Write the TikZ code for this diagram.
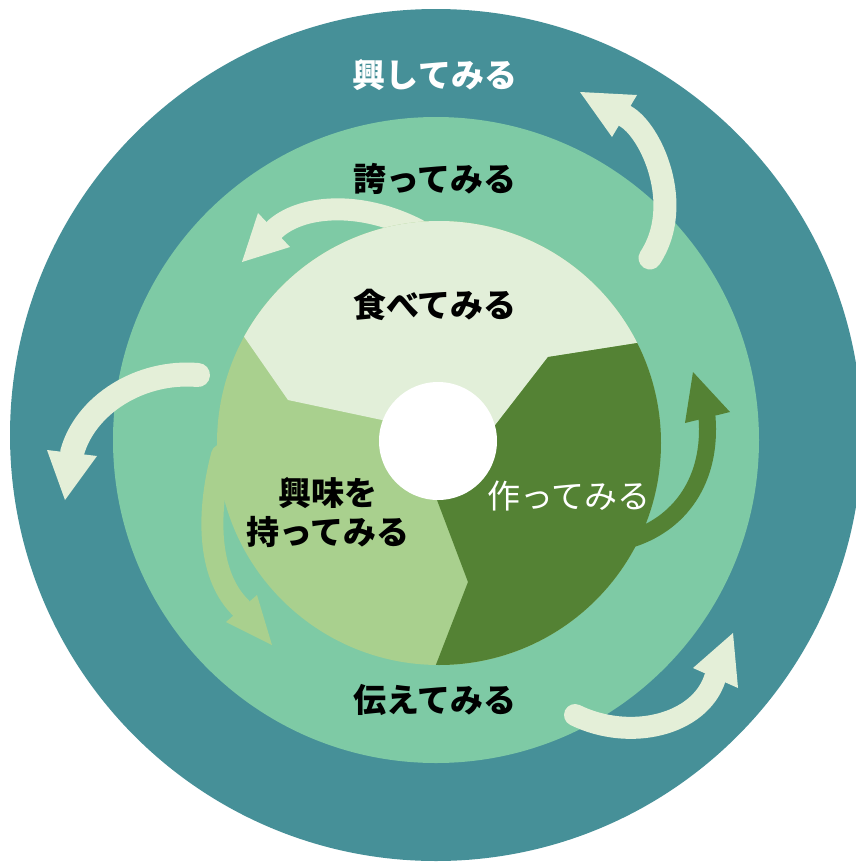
\documentclass[tikz,border=0pt]{standalone}
\usepackage{fontspec}
\setmainfont{Noto Sans CJK JP}
\definecolor{teal}{RGB}{70,144,152}
\definecolor{ring}{RGB}{126,202,165}
\definecolor{lightsec}{RGB}{226,239,217}
\definecolor{midsec}{RGB}{169,208,142}
\definecolor{darksec}{RGB}{84,130,52}
\definecolor{palearrow}{RGB}{228,239,216}
\tikzset{
  lbl/.style={inner sep=0pt, font=\fontsize{33}{39}\selectfont\bfseries, text=black, align=center},
  wlbl/.style={lbl, text=white},
  shaft/.style={line width=#1, line cap=round},
}
\begin{document}
\begin{tikzpicture}[x=1pt,y=-1pt]
\fill[white] (0,0) rectangle (856,863);
\useasboundingbox (0,0) rectangle (856,863);
% rings
\fill[teal] (436,435) circle[radius=426pt];
\fill[ring] (436,440) circle[radius=323pt];
% arrow behind disk (top left, tail merges with disk)
\coordinate (a2t) at (418,230);
\coordinate (a2b) at (274,230);
\draw[palearrow, shaft=22pt] (a2t) .. controls (360,200) and (300,205) .. (a2b);
\fill[palearrow] (242,262) -- (258,213) -- (290,247) -- cycle;
% inner disk
\begin{scope}
\clip (439,443) circle[radius=222pt];
\fill[midsec] (439,443) circle[radius=222pt];
\fill[lightsec] (188,256) -- (288,400) -- (382,420) -- (439,443) -- (493,428) -- (548,357) -- (720,330) -- (720,100) -- (188,100) -- cycle;
\fill[darksec] (720,330) -- (548,357) -- (493,428) -- (439,443) -- (437,500) -- (468,582) -- (437,662) -- (406,742) -- (720,742) -- cycle;
\end{scope}
% top-right arrow
\coordinate (a1t) at (650,258);
\coordinate (a1b) at (625,116);
\draw[palearrow, shaft=23pt] (a1t) .. controls (685,205) and (651,130) .. (a1b);
\fill[palearrow] (580,92) -- (637,95) -- (612,137) -- cycle;
% left arrow
\coordinate (a3t) at (198,375);
\coordinate (a3b) at (72,453);
\draw[palearrow, shaft=24pt] (a3t) .. controls (140,370) and (85,405) .. (a3b);
\fill[palearrow] (65,500) -- (47,450) -- (97,456) -- cycle;
% bottom-right arrow
\coordinate (a4t) at (575,715);
\coordinate (a4b) at (715,678);
\draw[palearrow, shaft=22pt] (a4t) .. controls (630,742) and (700,725) .. (a4b);
\fill[palearrow] (733,633) -- (693,668) -- (738,688) -- cycle;
% dark green arrow
\coordinate (a5t) at (628,540);
\coordinate (a5b) at (707,417);
\draw[darksec, shaft=17pt] (a5t) .. controls (680,525) and (712,480) .. (a5b);
\fill[darksec] (693,372) -- (685,423) -- (730,412) -- cycle;
% medium green arrow
\coordinate (a6t) at (222,455);
\coordinate (a6b) at (241,608);
\draw[midsec, shaft=22pt] (a6t) .. controls (205,520) and (210,578) .. (a6b);
\fill[midsec] (272,645) -- (226,622) -- (257,595) -- cycle;
% center hole
\fill[white] (438,441) circle[radius=59pt];
% labels
\node[wlbl] (okoshi) at (435,75) {興してみる};
\node[lbl] (hokori) at (435,179) {誇ってみる};
\node[lbl] (tabe) at (435,305) {食べてみる};
\node[lbl] (kyomi) at (328,512) {興味を\\持ってみる};
\node[wlbl, font=\fontsize{33}{39}\selectfont] (tsukuri) at (569,496) {作ってみる};
\node[lbl] (tsutae) at (435,700) {伝えてみる};
\end{tikzpicture}
\end{document}
